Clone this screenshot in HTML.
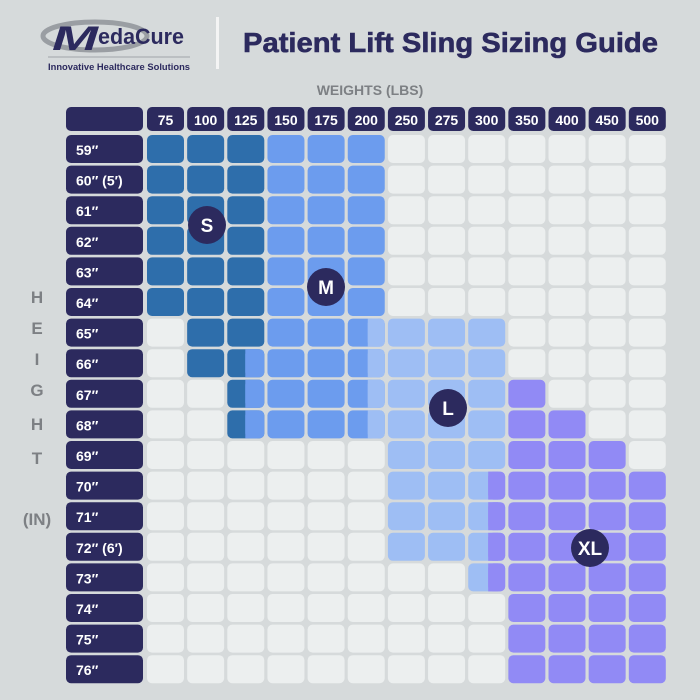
<!DOCTYPE html>
<html><head><meta charset="utf-8"><style>body{margin:0;background:#d6dadb}svg{display:block}</style></head>
<body>
<svg id="s" width="700" height="700" xmlns="http://www.w3.org/2000/svg" font-family="Liberation Sans, sans-serif">
<rect width="700" height="700" fill="#d6dadb"/>
<ellipse cx="95" cy="36" rx="52" ry="14" fill="none" stroke="#9a9ea3" stroke-width="5"/>
<text x="52" y="50" font-size="34" font-weight="bold" font-style="italic" fill="#2c2a5e" textLength="46" lengthAdjust="spacingAndGlyphs">M</text>
<text x="98" y="44" font-size="22" font-weight="bold" fill="#2c2a5e" textLength="86" lengthAdjust="spacingAndGlyphs">edaCure</text>
<line x1="48" y1="57" x2="190" y2="57" stroke="#a0a4a8" stroke-width="1"/>
<text x="48" y="70" font-size="9.5" font-weight="bold" fill="#2c2a5e" textLength="142" lengthAdjust="spacingAndGlyphs">Innovative Healthcare Solutions</text>
<rect x="216" y="17" width="3" height="52" fill="#f4f4f4"/>
<text x="243" y="52" font-size="28" font-weight="bold" fill="#2c2a5e" stroke="#2c2a5e" stroke-width="0.6" textLength="415" lengthAdjust="spacingAndGlyphs">Patient Lift Sling Sizing Guide</text>
<text x="370" y="95" font-size="14" font-weight="bold" fill="#7d8084" text-anchor="middle">WEIGHTS (LBS)</text>
<g id="g"></g>
<g font-size="17" font-weight="bold" fill="#7d8084" text-anchor="middle">
<text x="37" y="303">H</text><text x="37" y="334">E</text><text x="37" y="365">I</text><text x="37" y="396">G</text><text x="37" y="430">H</text><text x="37" y="464">T</text><text x="37" y="525">(IN)</text>
</g>
</svg>
<script>
const g=document.getElementById('g');const NS='http://www.w3.org/2000/svg';
function r(x,y,w,h,f,rx){const e=document.createElementNS(NS,'rect');e.setAttribute('x',x);e.setAttribute('y',y);e.setAttribute('width',w);e.setAttribute('height',h);e.setAttribute('fill',f);if(rx)e.setAttribute('rx',rx);g.appendChild(e);return e;}
function t(x,y,s,sz,fill,anc){const e=document.createElementNS(NS,'text');e.setAttribute('x',x);e.setAttribute('y',y);e.setAttribute('font-size',sz);e.setAttribute('font-weight','bold');e.setAttribute('fill',fill);if(anc)e.setAttribute('text-anchor',anc);e.textContent=s;g.appendChild(e);}
const NAVY='#2c2a5e',C={S:'#2e6eab',M:'#6c9cee',L:'#9ebef4',X:'#918af5',E:'#ecefef'};
const W=['75','100','125','150','175','200','250','275','300','350','400','450','500'];
const H=['59″','60″ (5′)','61″','62″','63″','64″','65″','66″','67″','68″','69″','70″','71″','72″ (6′)','73″','74″','75″','76″'];
const cx=i=>147+i*40.15, ry=j=>135+j*30.6;
r(66,107,77,24,NAVY,5);
W.forEach((w,i)=>{r(cx(i),107,37,24,NAVY,5);t(cx(i)+18.5,125,w,14,'#fff','middle');});
const rows=[];
for(let j=0;j<6;j++)rows.push('SSSMMMEEEEEEE');
rows.push('ESSMMmLLLEEEE');
rows.push('ESsMMmLLLEEEE');
rows.push('EEsMMmLLLXEEE');
rows.push('EEsMMmLLLXXEE');
rows.push('EEEEEELLLXXXE');
for(let j=0;j<3;j++)rows.push('EEEEEELLlXXXX');
rows.push('EEEEEEEElXXXX');
for(let j=0;j<3;j++)rows.push('EEEEEEEEEXXXX');
function split(x,y,a,b,w){r(x,y,37,28,a,5);r(x+w,y,37-w,28,b,5);r(x+w,y,30-w,28,b);}
rows.forEach((row,j)=>{
 r(66,ry(j),77,28,NAVY,5);t(76,ry(j)+20,H[j],14,'#fff');
 [...row].forEach((c,i)=>{
  const x=cx(i),y=ry(j);
  if(c==='s')split(x,y,C.S,C.M,18);
  else if(c==='m')split(x,y,C.M,C.L,20);
  else if(c==='l')split(x,y,C.L,C.X,20);
  else r(x,y,37,28,C[c],5);
 });
});
[['S',207,225],['M',326,287],['L',448,408],['XL',590,548]].forEach(([s,x,y])=>{
 const c=document.createElementNS(NS,'circle');c.setAttribute('cx',x);c.setAttribute('cy',y);c.setAttribute('r',19);c.setAttribute('fill',NAVY);g.appendChild(c);
 t(x,y+7,s,19,'#fff','middle');});
</script>
</body></html>
